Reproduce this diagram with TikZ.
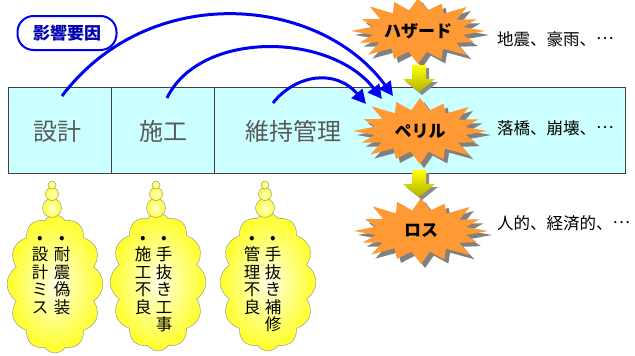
\documentclass[tikz,border=0pt]{standalone}
\usepackage{fontspec}
\setmainfont{Noto Sans CJK JP}
\usetikzlibrary{shapes.symbols,shadows,arrows.meta,calc}
\definecolor{boxfill}{HTML}{CCFFFF}
\definecolor{boxtext}{HTML}{595959}
\definecolor{burstfill}{HTML}{FF9933}
\definecolor{arrowblue}{HTML}{0000F0}
\definecolor{labelblue}{HTML}{0000B0}
\newcommand\midell{\raisebox{0.33em}{…}}
\begin{document}
\begin{tikzpicture}[x=1pt,y=-1pt,
  stage/.style={draw=black!75, fill=boxfill, line width=0.8pt, inner sep=0pt},
  stagetext/.style={text=boxtext, font=\fontsize{24}{28}\selectfont},
  bursttext/.style={font=\fontsize{17}{20}\selectfont\bfseries, inner sep=0pt},
  cloudnode/.style={cloud, cloud puffs=12, cloud puff arc=115, aspect=0.7, draw=black!40, line width=0.5pt,
    inner color=yellow!10!white, outer color=yellow!85!white, minimum width=96pt, minimum height=138pt},
  bubble/.style={circle, draw=black!40, line width=0.5pt, inner color=yellow!15!white, outer color=yellow!80!white, inner sep=0pt},
  coltext/.style={anchor=north, align=center, font=\fontsize{16.5}{17.5}\selectfont, inner sep=0pt},
  lbl/.style={anchor=west, font=\fontsize{16.5}{18}\selectfont, inner sep=0pt},
  bluearrow/.style={draw=arrowblue, line width=3pt, -{Triangle[length=14pt,width=14pt]}},
  yarrowpic/.pic={
    \fill[black!45] (-4,3) -- (10,3) -- (10,17) -- (19,17) -- (3,30) -- (-13,17) -- (-4,17) -- cycle;
    \shade[top color=yellow, bottom color=yellow!70!black] (-7,0) -- (7,0) -- (7,14) -- (16,14) -- (0,27) -- (-16,14) -- (-7,14) -- cycle;
  },
  burstpic/.pic={
    \begin{scope}[shift={(4,4)}]
      \fill[black!50] (0:67 and 33)
        \foreach \a/\f in {22/0.90,45/1.04,68/0.93,90/1.0,113/0.92,136/1.03,158/0.94,180/1.0,203/0.91,226/1.04,248/0.95,270/1.0,293/0.9,315/1.03,338/0.94}
        { -- ({\a-11}:46 and 21) -- ({\a}:{67*\f} and {33*\f}) } -- (349:46 and 21) -- cycle;
    \end{scope}
    \fill[burstfill] (0:67 and 33)
        \foreach \a/\f in {22/0.90,45/1.04,68/0.93,90/1.0,113/0.92,136/1.03,158/0.94,180/1.0,203/0.91,226/1.04,248/0.95,270/1.0,293/0.9,315/1.03,338/0.94}
        { -- ({\a-11}:46 and 21) -- ({\a}:{67*\f} and {33*\f}) } -- (349:46 and 21) -- cycle;
  }
]
\useasboundingbox (0,0) rectangle (635,356);

% stages box
\node[stage, minimum width=103pt, minimum height=86pt] (sekkei) at (59.5,130) {};
\node[stage, minimum width=103pt, minimum height=86pt] (sekou) at (162.5,130) {};
\node[stage, minimum width=411pt, minimum height=86pt] (iji) at (419.5,130) {};
\node[stagetext] (sekkeit) at (58,131) {設計};
\node[stagetext] (sekout) at (163,131) {施工};
\node[stagetext] (ijit) at (293,131) {維持管理};

% influence label
\node[draw=arrowblue, line width=2pt, rounded corners=16pt, minimum width=99pt, minimum height=34pt,
  fill=white, text=labelblue, font=\fontsize{17}{20}\selectfont\bfseries, inner sep=0pt] (inf) at (67,33) {影響要因};

% bursts
\pic at (418,31) {burstpic};
\node[bursttext] (hazard) at (418,31) {ハザード};
\pic at (420,131) {burstpic};
\node[bursttext] (peril) at (420,131) {ペリル};
\pic at (421,231) {burstpic};
\node[bursttext] (loss) at (421,231) {ロス};

% yellow arrows
\pic (ya1) at (419,65) {yarrowpic};
\pic (ya2) at (419,170) {yarrowpic};

% right labels
\node[lbl] (l1) at (497,39) {地震、豪雨、\midell};
\node[lbl] (l2) at (497,128) {落橋、崩壊、\midell};
\node[lbl] (l3) at (497,223) {人的、経済的、\midell};

% blue arrows
\coordinate (s1) at (62,96);
\coordinate (s2) at (167,98);
\coordinate (s3) at (273,103);
\coordinate (t1) at (393,96);
\coordinate (t2) at (382,99);
\coordinate (t3) at (366,104);
\draw[bluearrow] (s1) .. controls (150,-20) and (320,-4) .. (t1);
\draw[bluearrow] (s2) .. controls (200,30) and (330,32) .. (t2);
\draw[bluearrow] (s3) .. controls (295,75) and (335,68) .. (t3);

% clouds
\node[cloudnode] (cl1) at (55,284) {};
\node[cloudnode] (cl2) at (158,282) {};
\node[cloudnode] (cl3) at (268,282) {};
\foreach \cx/\nm in {52/a,156/b,265/c}{
  \node[bubble, minimum size=19pt] (bb3\nm) at (\cx,208) {};
  \node[bubble, minimum size=13pt] (bb2\nm) at (\cx,194) {};
  \node[bubble, minimum size=8pt] (bb1\nm) at (\cx,185) {};
}
\node[coltext] (c1r) at (62,236) {•\\耐\\震\\偽\\装};
\node[coltext] (c1l) at (40,236) {•\\設\\計\\ミ\\ス};
\node[coltext] (c2r) at (164,236) {•\\手\\抜\\き\\工\\事};
\node[coltext] (c2l) at (143,236) {•\\施\\工\\不\\良};
\node[coltext] (c3r) at (273,236) {•\\手\\抜\\き\\補\\修};
\node[coltext] (c3l) at (252,236) {•\\管\\理\\不\\良};
\end{tikzpicture}
\end{document}
